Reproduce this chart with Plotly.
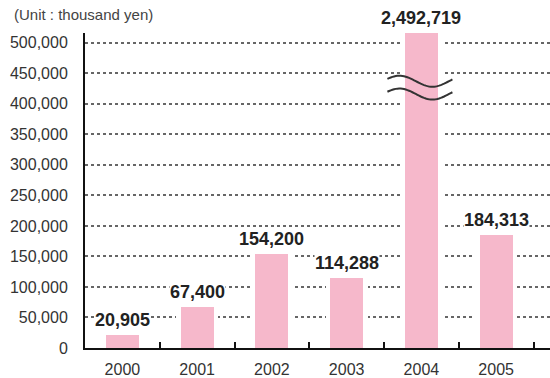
import numpy as np
import plotly.graph_objects as go

years = ["2000", "2001", "2002", "2003", "2004", "2005"]
values = [20905, 67400, 154200, 114288, 2492719, 184313]
y_tick_vals = [0, 50000, 100000, 150000, 200000, 250000, 300000, 350000, 400000, 450000, 500000]
unit_label = "(Unit : thousand yen)"

Y_CAP = 516000  # axis top; bars above it are drawn broken
display_vals = [min(v, Y_CAP) for v in values]
labels = [f"{v:,}" for v in values]

X_RANGE = [-0.5, 5.72]
Y_RANGE = [0, Y_CAP]

fig = go.Figure()
# white halo bars hide the grid next to each bar
fig.add_trace(go.Bar(x=years, y=display_vals, width=0.56, marker=dict(color="white", line=dict(width=0)),
                     hoverinfo="skip", showlegend=False))
fig.add_trace(go.Bar(x=years, y=display_vals, width=0.44, marker=dict(color="#F6B8CB", line=dict(width=0)),
                     showlegend=False))

for i, (dv, lab) in enumerate(zip(display_vals, labels)):
    fig.add_annotation(x=i, y=dv, xref="x", yref="y", text=f"<b>{lab}</b>", showarrow=False,
                       yanchor="bottom", yshift=4, bgcolor="white", borderpad=0,
                       font=dict(family="Liberation Sans, Arial, sans-serif", size=18, color="#222"))

# break symbol on the capped bar
broken = [i for i, v in enumerate(values) if v > Y_CAP]
px_w = 465.0
span = X_RANGE[1] - X_RANGE[0]
ppv = 315.0 / (Y_RANGE[1] - Y_RANGE[0])
for i in broken:
    cx_px = (i - X_RANGE[0]) / span * px_w
    for yc_val in (437000, 416000):
        xs = np.linspace(-34, 31, 40)
        pts = []
        for dx in xs:
            dy = 5.5 * np.cos(2 * np.pi * (dx + 22) / 66)  # pixel offset (upwards positive)
            px = (cx_px + dx) / px_w
            yv = yc_val + dy / ppv
            pts.append(f"{px:.5f},{yv:.1f}")
        path = "M " + " L ".join(pts)
        fig.add_shape(type="path", path=path, xref="paper", yref="y",
                      line=dict(color="#333", width=2))

fig.add_annotation(text=unit_label, xref="paper", yref="paper", x=(12 - 85) / px_w, y=1 + (33 - 15) / 315.0,
                   xanchor="left", yanchor="middle", showarrow=False,
                   font=dict(family="Liberation Sans, Arial, sans-serif", size=15, color="#444"))

fig.update_layout(
    width=550, height=378,
    margin=dict(l=85, r=0, t=33, b=30),
    paper_bgcolor="white", plot_bgcolor="white",
    barmode="overlay", bargap=0,
    showlegend=False,
    font=dict(family="Liberation Sans, Arial, sans-serif"),
)
fig.update_xaxes(type="category", range=X_RANGE, showline=True, linecolor="#111", linewidth=2,
                 ticks="inside", tickson="boundaries", ticklen=6, tickwidth=1.5, tickcolor="#111",
                 showgrid=False, ticklabelstandoff=6,
                 tickfont=dict(size=16, color="#333"))
fig.update_yaxes(range=Y_RANGE, tickvals=y_tick_vals, tickformat=",d", showline=True, linecolor="#111",
                 linewidth=2, ticks="", ticklabelstandoff=12, showgrid=True, gridcolor="#666",
                 gridwidth=1.5, griddash="3px,3px", zeroline=False,
                 tickfont=dict(size=16, color="#333"))

fig.write_html("out.html")
